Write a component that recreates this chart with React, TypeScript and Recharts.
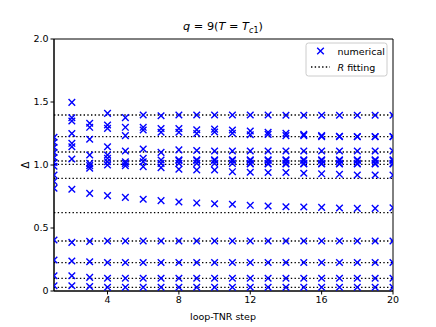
import React from 'react';
import { ScatterChart, Scatter, XAxis, YAxis, ReferenceLine, ReferenceArea } from 'recharts';

// loop-TNR steps (categories)
const steps = [1, 2, 3, 4, 5, 6, 7, 8, 9, 10, 11, 12, 13, 14, 15, 16, 17, 18, 19, 20];

// low-lying dimensions at each step (shared bottom levels)
const lowEarly1 = [0.405, 0.246, 0.121, 0.042];
const lowEarly2 = [0.386, 0.238, 0.121, 0.042];
const lowEarly3 = [0.394, 0.232, 0.108, 0.036];
const lowLate = [0.397, 0.226, 0.101, 0.03];

// higher dimensions at each step
const highByStep: number[][] = [
  [1.22, 1.18, 1.14, 1.1, 1.06, 1.02, 0.99, 0.92, 0.87, 0.815],
  [1.497, 1.375, 1.349, 1.25, 1.172, 1.145, 1.048, 0.807],
  [1.331, 1.299, 1.204, 1.079, 1.013, 0.995, 0.974, 0.775],
  [1.41, 1.317, 1.291, 1.145, 1.079, 1.053, 1.026, 1.0, 0.757],
  [1.376, 1.299, 1.233, 1.111, 1.026, 1.013, 0.994, 0.743],
  [1.397, 1.299, 1.278, 1.127, 1.053, 1.026, 0.987, 0.728],
  [1.391, 1.29, 1.26, 1.1, 1.04, 1.013, 0.979, 0.717],
  [1.397, 1.29, 1.26, 1.12, 1.042, 1.036, 1.013, 0.966, 0.706],
  [1.397, 1.28, 1.25, 1.115, 1.042, 1.036, 1.013, 0.96, 0.699],
  [1.397, 1.285, 1.262, 1.111, 1.042, 1.036, 1.013, 0.96, 0.693],
  [1.397, 1.278, 1.252, 1.111, 1.042, 1.036, 1.013, 0.947, 0.688],
  [1.397, 1.27, 1.24, 1.111, 1.042, 1.036, 1.013, 1.008, 0.942, 0.68],
  [1.397, 1.26, 1.243, 1.111, 1.042, 1.036, 1.013, 1.008, 0.94, 0.675],
  [1.395, 1.252, 1.233, 1.111, 1.042, 1.036, 1.013, 1.008, 0.94, 0.669],
  [1.395, 1.243, 1.233, 1.111, 1.042, 1.036, 1.013, 1.008, 0.934, 0.667],
  [1.395, 1.233, 1.225, 1.111, 1.042, 1.036, 1.013, 1.008, 0.93, 0.664],
  [1.395, 1.228, 1.225, 1.111, 1.042, 1.036, 1.013, 1.008, 0.926, 0.659],
  [1.395, 1.226, 1.224, 1.111, 1.042, 1.036, 1.013, 1.008, 0.921, 0.656],
  [1.395, 1.226, 1.224, 1.111, 1.042, 1.036, 1.013, 1.008, 0.921, 0.656],
  [1.395, 1.226, 1.224, 1.111, 1.042, 1.036, 1.013, 1.008, 0.92, 0.661],
];

// R fitting levels
const rFitting = [0.029, 0.1, 0.225, 0.397, 0.622, 0.894, 1.005, 1.032, 1.103, 1.225, 1.397];

const xTicks = [4, 8, 12, 16, 20];
const yTicks = [0, 0.5, 1, 1.5, 2];

const points: { step: number; delta: number }[] = [];
steps.forEach((s, i) => {
  const low = i === 0 ? lowEarly1 : i === 1 ? lowEarly2 : i === 2 ? lowEarly3 : lowLate;
  [...highByStep[i], ...low].forEach((v) => points.push({ step: s, delta: v }));
});

const BLUE = '#0000ff';
const FONT = '"DejaVu Sans", sans-serif';

const XMark = (props: any) => {
  const { cx, cy } = props;
  if (cx == null || cy == null) return null;
  const r = 3.3;
  return (
    <path
      d={`M${cx - r},${cy - r}L${cx + r},${cy + r}M${cx - r},${cy + r}L${cx + r},${cy - r}`}
      stroke={BLUE}
      strokeWidth={1.4}
      fill="none"
    />
  );
};

export default function App() {
  return (
    <div style={{ position: 'absolute', left: 0, top: 0, width: 436, height: 327, background: '#fff' }}>
      <ScatterChart
        width={436}
        height={327}
        margin={{ top: 39, right: 43, bottom: 11, left: 24 }}
      >
        <XAxis
          dataKey="step"
          type="number"
          domain={[1, 20]}
          ticks={xTicks}
          allowDataOverflow
          height={25}
          tickSize={3.5}
          tickMargin={2}
          axisLine={{ stroke: '#000', strokeWidth: 1 }}
          tickLine={{ stroke: '#000', strokeWidth: 1 }}
          tick={{ fontSize: 9.5, fill: '#000', fontFamily: FONT }}
        />
        <YAxis
          dataKey="delta"
          type="number"
          domain={[0, 2]}
          ticks={yTicks}
          allowDataOverflow
          width={30}
          tickSize={3.5}
          tickMargin={2}
          tickFormatter={(v: number) => (v === 0 ? '0' : v.toFixed(1))}
          axisLine={{ stroke: '#000', strokeWidth: 1 }}
          tickLine={{ stroke: '#000', strokeWidth: 1 }}
          tick={{ fontSize: 9.5, fill: '#000', fontFamily: FONT }}
        />
        {rFitting.map((y) => (
          <ReferenceLine
            key={y}
            y={y}
            stroke="#000"
            strokeWidth={1.4}
            strokeDasharray="1.4 2.3"
          />
        ))}
        <Scatter data={points} shape={<XMark />} isAnimationActive={false} />
        <ReferenceArea x1={1} x2={20} y1={0} y2={2} fill="none" stroke="#000" strokeWidth={1} />
      </ScatterChart>
      <svg
        width={436}
        height={327}
        style={{ position: 'absolute', left: 0, top: 0, pointerEvents: 'none' }}
      >
        <text x={223} y={30} textAnchor="middle" fontFamily={FONT} fontSize={11.3} fill="#000">
          <tspan fontStyle="italic">q</tspan>
          <tspan> = 9(</tspan>
          <tspan fontStyle="italic">T</tspan>
          <tspan> = </tspan>
          <tspan fontStyle="italic">T</tspan>
          <tspan fontSize={8} dy={2.5} fontStyle="italic">c</tspan>
          <tspan fontSize={8}>1</tspan>
          <tspan dy={-2.5}>)</tspan>
        </text>
        <text x={223} y={320} textAnchor="middle" fontFamily={FONT} fontSize={9.5} fill="#000">
          loop-TNR step
        </text>
        <text
          x={26}
          y={165}
          textAnchor="middle"
          fontFamily={FONT}
          fontSize={10}
          fill="#000"
          transform="rotate(-90 26 165)"
          dominantBaseline="middle"
        >
          Δ
        </text>
        <g>
          <rect x={306} y={43} width={81} height={33} rx={2.5} fill="#fff" fillOpacity={0.8} stroke="#ccc" strokeWidth={1} />
          <path d="M317.2,47.7L323.8,54.3M317.2,54.3L323.8,47.7" stroke={BLUE} strokeWidth={1.4} />
          <text x={337.5} y={54.5} fontFamily={FONT} fontSize={9.5} fill="#000">numerical</text>
          <line x1={311} y1={67} x2={330} y2={67} stroke="#000" strokeWidth={1.4} strokeDasharray="1.4 2.3" />
          <text x={337.5} y={70.5} fontFamily={FONT} fontSize={9.5} fill="#000">
            <tspan fontStyle="italic">R</tspan>
            <tspan> fitting</tspan>
          </text>
        </g>
      </svg>
    </div>
  );
}
